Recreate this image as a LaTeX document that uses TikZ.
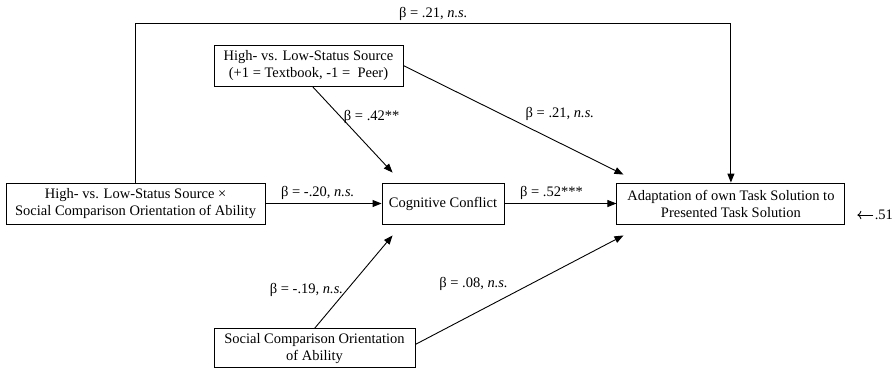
\documentclass[tikz,border=0pt]{standalone}
\usepackage{fontspec}
\setmainfont{Liberation Serif}
\usetikzlibrary{positioning,arrows.meta}

\tikzstyle{caja}=[rectangle,draw=black,line width=.9pt,minimum height=41pt,inner sep=0pt,align=center]
\tikzstyle{texto}=[inner sep=3pt]

\begin{document}
\begin{tikzpicture}[x=1pt,y=1pt,>={Triangle[length=9pt,width=7pt]},line width=.9pt,
  font=\fontsize{14.5}{17}\selectfont]
  \tikzstyle{caja}=[rectangle,draw=black,line width=.9pt,minimum height=41pt,inner sep=0pt,align=center]
  \tikzstyle{texto}=[inner sep=3pt]

  \useasboundingbox (0,0) rectangle (896,-368);

  \begin{scope}

    \node [caja,minimum width=122pt] (c1) at (443,-203.5) {Cognitive Conflict};

    \node [caja,minimum width=189pt] (c2) [above=96pt of c1,xshift=-134.5pt]
    {High- vs. Low-Status Source\\(+1 = Textbook, -1 =\ \ Peer)};

    \node [caja,minimum width=259pt] (c3) [left=116pt of c1]
    {High- vs. Low-Status Source ×\\Social Comparison Orientation of Ability};

    \node [caja,minimum width=201pt,minimum height=39pt] (c4) [below=104pt of c1,xshift=-128.5pt]
    {Social Comparison Orientation\\of Ability};

    \node [caja,minimum width=228pt] (c5) [right=112pt of c1]
    {Adaptation of own Task Solution to\\Presented Task Solution};

    \node [texto,inner sep=1pt] (e1) [right=28pt of c5,yshift=-11.5pt] {.51};

    \draw [->] (c3) -- node [texto,above,pos=.45] {β = -.20, \textit{n.s.}} (c1);
    \draw [->] (c1) -- node [texto,above,pos=.42] {β = .52***} (c5);
    \draw [->] ([xshift=4pt]c2.south) -- node [texto,right,pos=.35] {β = .42**}
      ([xshift=11pt,yshift=10pt]c1.north west);
    \draw [->] (c2.east) -- node [texto,above right,pos=.54] {β = .21, \textit{n.s.}}
      ([xshift=7pt,yshift=8pt]c5.north west);
    \draw [->] (c4.north) -- node [texto,left,pos=.41] {β = -.19, \textit{n.s.}}
      ([xshift=11pt,yshift=-11pt]c1.south west);
    \draw [->] ([yshift=4pt]c4.east) -- node [texto,above left,pos=.46] {β = .08, \textit{n.s.}}
      ([xshift=7pt,yshift=-11pt]c5.south west);
    \draw [->] (c3.north) -- ++(0,159) -| node [texto,above,pos=.25] {β = .21, \textit{n.s.}} (c5.north);
    \draw [-{To[length=4pt]},shorten >=12pt] (e1) -- (e1 -| c5.east);
  \end{scope}

\end{tikzpicture}
\end{document}
